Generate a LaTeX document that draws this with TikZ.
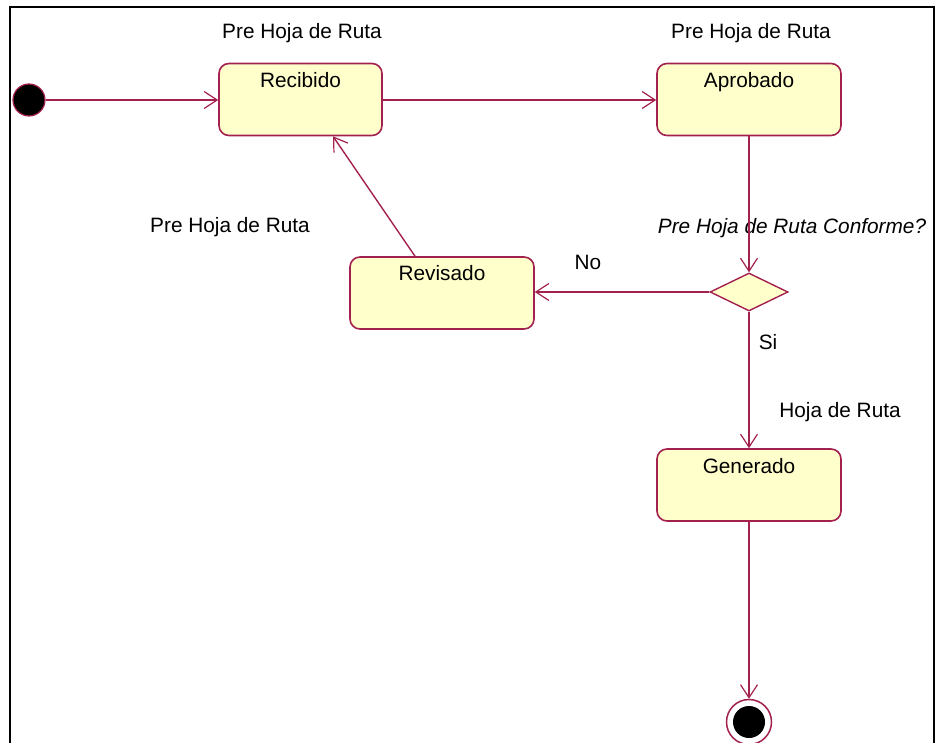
\documentclass[tikz,border=0pt]{standalone}
\usepackage{fontspec}
\setmainfont{Liberation Sans}
\usetikzlibrary{arrows.meta,shapes.geometric}
\definecolor{umlline}{HTML}{A3214F}
\definecolor{umlfill}{HTML}{FFFFCC}
\begin{document}
\begin{tikzpicture}[x=1pt,y=-1pt,
  every node/.style={font=\fontsize{20.8}{24}\selectfont},
  statebox/.style={draw=umlline,fill=umlfill,line width=1.6pt,rounded corners=10pt,
    minimum height=72pt,text height=16pt,text depth=40pt,inner ysep=8pt,inner xsep=4pt},
  flow/.style={draw=umlline,line width=1.4pt,-{Straight Barb[length=13pt,width=17pt,line width=1.2pt]}},
  txt/.style={inner sep=0pt}
]
\useasboundingbox (0,0) rectangle (935,743);
\draw[line width=2pt,black] (10,750) -- (10,7) -- (934,7) -- (934,750);

\node[circle,fill=black,draw=umlline,line width=1.2pt,minimum size=32pt,inner sep=0pt] (init) at (29,100) {};
\node[statebox,minimum width=163pt] (rec) at (300.5,99.5) {Recibido};
\node[statebox,minimum width=184pt] (apr) at (749,99.5) {Aprobado};
\node[statebox,minimum width=184pt] (rev) at (442,293) {Revisado};
\node[statebox,minimum width=184pt] (gen) at (749,485) {Generado};
\node[diamond,draw=umlline,fill=umlfill,line width=1.4pt,minimum width=78pt,minimum height=38pt,inner sep=0pt] (dec) at (749,292) {};
\node[circle,draw=umlline,fill=white,line width=1.5pt,minimum size=45pt,inner sep=0pt] (fin) at (749,722) {};
\node[circle,fill=black,minimum size=32pt,inner sep=0pt] (finin) at (fin.center) {};

\node[txt] (l1) at (302,33) {Pre Hoja de Ruta};
\node[txt] (l2) at (751,33) {Pre Hoja de Ruta};
\node[txt] (l3) at (230,227) {Pre Hoja de Ruta};
\node[txt] (l4) at (792,228) {\itshape Pre Hoja de Ruta Conforme?};
\node[txt] (l5) at (588,262) {No};
\node[txt] (l6) at (768,342) {Si};
\node[txt] (l7) at (840,412) {Hoja de Ruta};

\draw[flow] (init) -- (rec.west |- init);
\draw[flow] (rec.east |- init) -- (apr.west |- init);
\draw[flow] (apr.south) -- (dec.north);
\draw[flow] (dec.west) -- (rev.east |- dec.west);
\draw[flow] ([xshift=-27pt]rev.north) -- ([xshift=32.5pt]rec.south);
\draw[flow] (dec.south) -- (gen.north);
\draw[flow] (gen.south) -- (fin.north);
\end{tikzpicture}
\end{document}
